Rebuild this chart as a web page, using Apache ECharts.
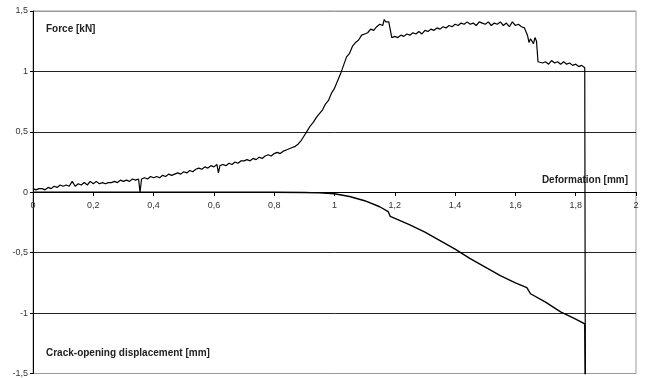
<!DOCTYPE html>
<html>
<head>
<meta charset="utf-8">
<script src="https://cdn.jsdelivr.net/npm/echarts@6/dist/echarts.min.js"></script>
<style>
  html, body { margin: 0; padding: 0; background: #fff; }
  #chart { width: 645px; height: 378px; }
</style>
</head>
<body>
<div id="chart"></div>
<script>
// Force [kN] vs deformation [mm]
const forceData = [
  [0.00, 0.03], [0.01, 0.02], [0.02, 0.03], [0.03, 0.03], [0.04, 0.02], [0.05, 0.04],
  [0.06, 0.03], [0.07, 0.05], [0.08, 0.04], [0.09, 0.06], [0.10, 0.05], [0.11, 0.06],
  [0.12, 0.05], [0.13, 0.09], [0.14, 0.05], [0.15, 0.07], [0.16, 0.06], [0.17, 0.08],
  [0.18, 0.06], [0.19, 0.09], [0.20, 0.07], [0.21, 0.09], [0.22, 0.07], [0.23, 0.08],
  [0.24, 0.07], [0.25, 0.08], [0.26, 0.08], [0.27, 0.09], [0.28, 0.08], [0.29, 0.10],
  [0.30, 0.09], [0.31, 0.10], [0.32, 0.09], [0.33, 0.11], [0.34, 0.10], [0.35, 0.11],
  [0.355, 0.00], [0.36, 0.11], [0.37, 0.12], [0.38, 0.11], [0.39, 0.13], [0.40, 0.12],
  [0.41, 0.13], [0.42, 0.12], [0.43, 0.14], [0.44, 0.13], [0.45, 0.15], [0.46, 0.14],
  [0.47, 0.15], [0.48, 0.16], [0.49, 0.15], [0.50, 0.17], [0.51, 0.16], [0.52, 0.18],
  [0.53, 0.17], [0.54, 0.19], [0.55, 0.20], [0.56, 0.19], [0.57, 0.21], [0.58, 0.20],
  [0.59, 0.22], [0.60, 0.21], [0.61, 0.23], [0.615, 0.16], [0.62, 0.22], [0.63, 0.23],
  [0.64, 0.22], [0.65, 0.24], [0.66, 0.23], [0.67, 0.25], [0.68, 0.24], [0.69, 0.26],
  [0.70, 0.26], [0.71, 0.27], [0.72, 0.26], [0.73, 0.28], [0.74, 0.27], [0.75, 0.29],
  [0.76, 0.28], [0.77, 0.30], [0.78, 0.31], [0.79, 0.30], [0.80, 0.32], [0.81, 0.33],
  [0.82, 0.32], [0.83, 0.34], [0.84, 0.35], [0.85, 0.36], [0.86, 0.37], [0.87, 0.38],
  [0.88, 0.40], [0.89, 0.43], [0.90, 0.47], [0.91, 0.51], [0.92, 0.55], [0.93, 0.58],
  [0.94, 0.62], [0.95, 0.65], [0.96, 0.68], [0.97, 0.73], [0.98, 0.76], [0.99, 0.82],
  [1.00, 0.86], [1.01, 0.92], [1.02, 0.98], [1.03, 1.05], [1.04, 1.12], [1.05, 1.15],
  [1.06, 1.21], [1.07, 1.24], [1.08, 1.26], [1.09, 1.30], [1.10, 1.31], [1.11, 1.32],
  [1.12, 1.35], [1.13, 1.34], [1.14, 1.37], [1.15, 1.39], [1.16, 1.38], [1.165, 1.43],
  [1.17, 1.41], [1.18, 1.41], [1.185, 1.40], [1.19, 1.28], [1.20, 1.29], [1.21, 1.28],
  [1.22, 1.30], [1.23, 1.29], [1.24, 1.31], [1.25, 1.30], [1.26, 1.32], [1.27, 1.31],
  [1.28, 1.33], [1.29, 1.31], [1.30, 1.34], [1.31, 1.33], [1.32, 1.35], [1.33, 1.34],
  [1.34, 1.36], [1.35, 1.35], [1.36, 1.37], [1.37, 1.36], [1.38, 1.38], [1.39, 1.37],
  [1.40, 1.39], [1.41, 1.38], [1.42, 1.40], [1.43, 1.39], [1.44, 1.41], [1.45, 1.39],
  [1.46, 1.40], [1.47, 1.38], [1.48, 1.41], [1.49, 1.40], [1.50, 1.39], [1.51, 1.41],
  [1.52, 1.38], [1.53, 1.40], [1.54, 1.39], [1.55, 1.41], [1.56, 1.38], [1.57, 1.40],
  [1.58, 1.37], [1.59, 1.41], [1.60, 1.38], [1.61, 1.39], [1.62, 1.37], [1.63, 1.36],
  [1.64, 1.30], [1.645, 1.24], [1.65, 1.27], [1.66, 1.23], [1.665, 1.28], [1.67, 1.25],
  [1.675, 1.08], [1.68, 1.09], [1.69, 1.07], [1.70, 1.08], [1.71, 1.06], [1.72, 1.09],
  [1.73, 1.07], [1.74, 1.08], [1.75, 1.06], [1.76, 1.08], [1.77, 1.06], [1.78, 1.07],
  [1.79, 1.05], [1.80, 1.06], [1.81, 1.04], [1.82, 1.05], [1.83, 1.03], [1.832, -1.6]
];

// crack-opening displacement [mm] vs deformation [mm]
const codData = [
  [0.00, 0.0], [0.20, 0.0], [0.50, 0.0], [0.80, 0.0], [0.90, -0.002], [0.95, -0.005],
  [1.00, -0.012], [1.05, -0.035], [1.10, -0.07], [1.15, -0.12], [1.178, -0.16],
  [1.185, -0.20], [1.25, -0.27], [1.30, -0.33], [1.35, -0.40], [1.40, -0.47],
  [1.45, -0.55], [1.50, -0.62], [1.55, -0.69], [1.60, -0.75], [1.638, -0.79],
  [1.65, -0.84], [1.70, -0.91], [1.75, -0.99], [1.80, -1.05], [1.83, -1.09], [1.832, -1.6]
];

const yTicks = [-1.5, -1, -0.5, 0, 0.5, 1, 1.5];
const xTicks = [0, 0.2, 0.4, 0.6, 0.8, 1, 1.2, 1.4, 1.6, 1.8, 2];

const font = 'Arial, "Liberation Sans", sans-serif';
const comma = v => String(+(+v).toFixed(1)).replace('.', ',');

const chart = echarts.init(document.getElementById('chart'));
chart.setOption({
  backgroundColor: '#fff',
  animation: false,
  grid: {
    left: 33, right: 9, top: 11, bottom: 4,
    show: true, borderColor: '#999', borderWidth: 1
  },
  xAxis: {
    type: 'value',
    min: xTicks[0], max: xTicks[xTicks.length - 1], interval: 0.2,
    position: 'bottom',
    // lift the axis (line, ticks and labels) up to y = 0
    offset: -181.5,
    axisLine: { onZero: false, lineStyle: { color: '#000', width: 1 } },
    axisTick: { show: true, length: 4, lineStyle: { color: '#000' } },
    splitLine: { show: false },
    axisLabel: {
      fontFamily: font, fontSize: 9, color: '#333', margin: 9,
      formatter: comma
    }
  },
  yAxis: {
    type: 'value',
    min: yTicks[0], max: yTicks[yTicks.length - 1], interval: 0.5,
    axisLine: { show: true, lineStyle: { color: '#000', width: 1 } },
    axisTick: { show: true, length: 3, lineStyle: { color: '#000' } },
    splitLine: {
      show: true,
      lineStyle: { color: ['#999', '#222', '#222', '#222', '#222', '#222', '#999'], width: 1 }
    },
    axisLabel: {
      fontFamily: font, fontSize: 9, color: '#333', margin: 5,
      formatter: comma
    }
  },
  series: [
    {
      name: 'Force',
      type: 'line',
      data: forceData,
      showSymbol: false,
      clip: true,
      lineStyle: { color: '#000', width: 1.2 }
    },
    {
      name: 'Crack-opening displacement',
      type: 'line',
      data: codData,
      showSymbol: false,
      clip: true,
      lineStyle: { color: '#000', width: 1.4 }
    }
  ],
  graphic: [
    {
      type: 'text', left: 46, top: 24,
      style: { text: 'Force [kN]', font: 'bold 10px ' + font, fill: '#222' }
    },
    {
      type: 'text', right: 17, top: 175,
      style: { text: 'Deformation [mm]', font: 'bold 10px ' + font, fill: '#222' }
    },
    {
      type: 'text', left: 46, top: 348,
      style: { text: 'Crack-opening displacement [mm]', font: 'bold 10px ' + font, fill: '#222' }
    }
  ]
});
</script>
</body>
</html>
